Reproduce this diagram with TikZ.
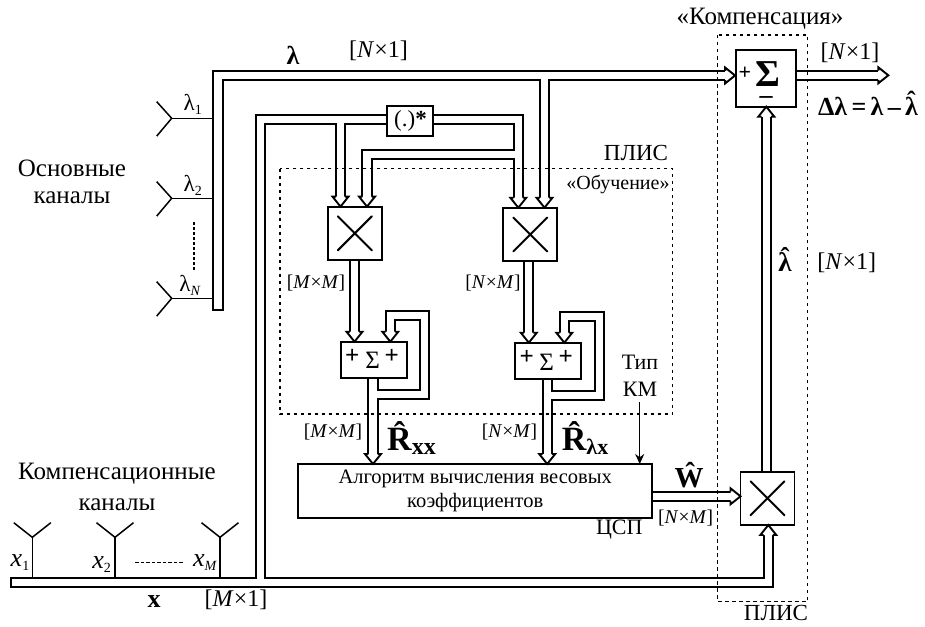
\documentclass[tikz,border=0pt]{standalone}
\usepackage{fontspec}
\setmainfont{Liberation Serif}
\usetikzlibrary{calc,arrows.meta,backgrounds}
\newcommand{\szlab}[2]{[\textit{#1}×#2]}
\newcommand{\szit}[2]{[\textit{#1}×\textit{#2}]}
\newcommand{\lamhat}{\ooalign{λ\cr\hidewidth\raisebox{0.2em}{ˆ}\hidewidth\cr}}
\newcommand{\subsc}[1]{\raisebox{-4pt}{\fontsize{14}{14}\selectfont #1}}
\newcommand{\busroutes}{%
  % lambda bus
  \draw[busline,line cap=rect] (lamend) -- ++(0,-5);
  \draw[busline] (lamend) -- (lamcorner) -- ($(s3in)+(-10,0)$);
  \draw[busline] ($(lamcorner)!0.9!(lamturn)$) -- (lamturn) -- ($(m2b)+(0,-10)$);
  % x bus
  \draw[busline,line cap=rect] (xend) -- ++(5,0);
  \draw[busline] (xend) -- (xcorner) -- ($(m3in)+(0,10)$);
  \draw[busline] (xup) -- (xtop) -- (conjr) -- ($(m2a)+(0,-10)$);
  \draw[busline] (m1abr) -- ($(m1a)+(0,-10)$);
  \draw[busline] (m2br1) -- (m2br2) -- ($(m1b)+(0,-10)$);
  % multiplier outputs and accumulators
  \draw[busline] (m1.south -| s1a) -- ($(s1a)+(0,-10)$);
  \draw[busline] (m2.south -| s2a) -- ($(s2a)+(0,-10)$);
  \draw[busline] (s1o) -- ($(algo1)+(0,-10)$);
  \draw[busline] (s2o) -- ($(algo2)+(0,-10)$);
  \draw[busline] (s1t) -- (s1p1) -- (s1p2) -- (s1p3) -- ($(s1b)+(0,-10)$);
  \draw[busline] (s2t) -- (s2p1) -- (s2p2) -- (s2p3) -- ($(s2b)+(0,-10)$);
  % weights, estimate, output
  \draw[busline] (wout) -- ($(m3w)+(-10,0)$);
  \draw[busline] (m3up) -- ($(s3b)+(0,10)$);
  \draw[busline] (s3out) -- ($(s3tip)+(-10,0)$);
}
\tikzset{
  x=1pt,y=-1pt,
  box/.style={draw,line width=1.9pt,fill=white,inner sep=0pt},
  mult/.style={box,minimum width=54pt,minimum height=53.5pt},
  frame/.style={line width=1.1pt,dash pattern=on 3.5pt off 3.5pt},
  wire/.style={line width=1.5pt},
  tx/.style={inner sep=0pt,font=\fontsize{#1}{#1}\selectfont},
  bf/.style={inner sep=0pt,font=\fontsize{#1}{#1}\bfseries\selectfont},
  bushead/.pic={
    \fill[white] (-8,-10) -- (0,0) -- (8,-10) -- cycle;
    \draw[line width=1.9pt,line join=miter] (-4.6,-10) -- (-8,-10) -- (0,0) -- (8,-10) -- (4.6,-10);
  },
  antleft/.pic={\draw[wire] (-15,-16.6) -- (0,0) -- (-15,17.8);},
  antup/.pic={\draw[wire] (-18.5,-14.6) -- (0,0) -- (18.5,-14.6);},
  crossmark/.pic={\draw[line width=2pt,line cap=round] (-17,-17) -- (17,17) (-17,17) -- (17,-17);}
}
\begin{document}
\begin{tikzpicture}
\useasboundingbox (0,0) rectangle (925,626);
% blocks
\node[box,minimum width=45.7pt,minimum height=30pt] (conj) at (410.2,121) {};
\node[tx=23] (conjt) at (410.5,121) {(.)\textbf{*}};
\node[mult] (m1) at (354.8,233.3) {};
\node[mult] (m2) at (530.3,234.5) {};
\node[mult] (m3) at (767.5,498.3) {};
\node[box,minimum width=66.6pt,minimum height=36.6pt] (s1) at (374,360) {};
\node[box,minimum width=66pt,minimum height=36.3pt] (s2) at (548,360.8) {};
\node[box,minimum width=60pt,minimum height=56.7pt] (s3) at (766,78.3) {};
\node[box,minimum width=354pt,minimum height=53.7pt,align=center,font=\fontsize{20.5}{25}\selectfont] (algo) at (475.2,490.8) {Алгоритм вычисления весовых\\[-1pt]коэффициентов};
% bus way-points
\coordinate (s3in) at (s3.west |- 0,75.5);
\coordinate (lamend) at (218,305.3);
\coordinate (lamcorner) at (218,75.5);
\coordinate (lamturn) at (544.5,75.5);
\coordinate (m2b) at (544.5,207.7);
\coordinate (m2a) at (518.3,207.7);
\coordinate (m1a) at (340.5,206.6);
\coordinate (m1b) at (367,206.6);
\coordinate (xend) at (15.4,582.6);
\coordinate (xcorner) at (768.3,582.6);
\coordinate (m3in) at (768.3,525);
\coordinate (xup) at (260.5,582.6);
\coordinate (xtop) at (260.5,119.7);
\coordinate (conjr) at (518.3,119.7);
\coordinate (m1abr) at (340.5,119.7);
\coordinate (m2br1) at (518.3,154.7);
\coordinate (m2br2) at (367,154.7);
\coordinate (s1a) at (354.5,341.7);
\coordinate (s2a) at (528.8,342.7);
\coordinate (s1b) at (390.3,341.7);
\coordinate (s2b) at (564.3,342.7);
\coordinate (s1o) at (373,378);
\coordinate (s2o) at (547.2,379);
\coordinate (algo1) at (373,464);
\coordinate (algo2) at (547.2,464);
\coordinate (s1t) at (373,394.5);
\coordinate (s1p1) at (424.8,394.5);
\coordinate (s1p2) at (424.8,315.5);
\coordinate (s1p3) at (390.3,315.5);
\coordinate (s2t) at (547.2,395.5);
\coordinate (s2p1) at (599.3,395.5);
\coordinate (s2p2) at (599.3,316.7);
\coordinate (s2p3) at (564.3,316.7);
\coordinate (wout) at (652.2,496.3);
\coordinate (m3w) at (740.5,496.3);
\coordinate (m3up) at (766.3,471.5);
\coordinate (s3b) at (766.3,106.7);
\coordinate (s3out) at (796,75.3);
\coordinate (s3tip) at (888.3,75.3);
\begin{pgfonlayer}{background}
  \tikzset{busline/.style={line width=11.1pt}}
  \busroutes
  \tikzset{busline/.style={line width=7.3pt,white}}
  \busroutes
\end{pgfonlayer}
% hollow arrow heads
\pic at (m1a) {bushead};
\pic at (m1b) {bushead};
\pic at (m2a) {bushead};
\pic at (m2b) {bushead};
\pic at (s1a) {bushead};
\pic at (s1b) {bushead};
\pic at (s2a) {bushead};
\pic at (s2b) {bushead};
\pic at (algo1) {bushead};
\pic at (algo2) {bushead};
\pic[rotate=90] at (s3in) {bushead};
\pic[rotate=90] at (s3tip) {bushead};
\pic[rotate=90] at (m3w) {bushead};
\pic[rotate=180] at (m3in) {bushead};
\pic[rotate=180] at (s3b) {bushead};
% multiplier marks
\pic at (m1.center) {crossmark};
\pic at (m2.center) {crossmark};
\pic at (m3.center) {crossmark};
% FPGA frames
\draw[frame] (280,168.5) rectangle (672.7,414);
\draw[frame] (717.7,35) rectangle (807.7,601.7);
% main-channel antennas
\coordinate (al1) at (171.7,118.3);
\coordinate (al2) at (171.7,198.3);
\coordinate (al3) at (171.7,298.3);
\coordinate (tl1) at (213,118.3);
\coordinate (tl2) at (213,198.3);
\coordinate (tl3) at (213,298.3);
\foreach \n in {1,2,3}{
  \pic at (al\n) {antleft};
  \draw[wire] (al\n) -- (tl\n);
}
\coordinate (dl1) at (194,222);
\coordinate (dl2) at (194,270);
\draw[line width=1.4pt,dash pattern=on 3pt off 2pt] (dl1) -- (dl2);
% compensation antennas
\coordinate (au1) at (32.3,537.3);
\coordinate (au2) at (115,537.3);
\coordinate (au3) at (220,537.3);
\coordinate (tu1) at (32.3,578);
\coordinate (tu2) at (115,578);
\coordinate (tu3) at (220,578);
\foreach \n in {1,2,3}{
  \pic at (au\n) {antup};
  \draw[wire] (au\n) -- (tu\n);
}
\coordinate (du1) at (135,562.3);
\coordinate (du2) at (183,562.3);
\draw[line width=1.2pt,dash pattern=on 3.5pt off 2pt] (du1) -- (du2);
% type input
\node[inner sep=0pt,align=center,font=\fontsize{22}{27}\selectfont] (typ) at (640,375.5) {Тип\\КМ};
\coordinate (typend) at (639.7,464);
\coordinate (typstart) at (639.7,401.7);
\draw[line width=1.5pt,-{Stealth[length=10pt,width=9pt]}] (typstart) -- (typend);
% labels
\node[tx=25] (main1) at (72,168) {Основные};
\node[tx=25] (main2) at (72,198) {каналы};
\node[tx=25] (comp1) at (117,474) {Компенсационные};
\node[tx=25] (comp2) at (117,505) {каналы};
\node[tx=25] (compl) at (760,19) {«Компенсация»};
\node[tx=23] (plis1) at (636,153) {ПЛИС};
\node[tx=23] (plis2) at (776,613) {ПЛИС};
\node[tx=20] (learn) at (618,184) {«Обучение»};
\node[tx=22] (csp) at (619.3,529.3) {ЦСП};
\node[bf=26] (lam) at (293,55) {λ};
\node[tx=24] (d1) at (378.5,50.7) {\szlab{N}{1}};
\node[tx=24] (d2) at (850,53) {\szlab{N}{1}};
\node[tx=24] (d3) at (846.7,263) {\szlab{N}{1}};
\node[tx=24] (d4) at (236,600) {\szlab{M}{1}};
\node[tx=19.5] (d5) at (316,283) {\szit{M}{M}};
\node[tx=19.5] (d6) at (493,283) {\szit{N}{M}};
\node[tx=19.5] (d7) at (333,432) {\szit{M}{M}};
\node[tx=19.5] (d8) at (509.5,432) {\szit{N}{M}};
\node[tx=19.5] (d9) at (685.7,518) {\szit{N}{M}};
\node[tx=23] (l1) at (192.7,104) {λ\subsc{1}};
\node[tx=23] (l2) at (192.7,185) {λ\subsc{2}};
\node[tx=23] (l3) at (190,285) {λ\subsc{\textit{N}}};
\node[tx=26] (x1) at (20,563) {\textit{x}\subsc{1}};
\node[tx=26] (x2) at (101.7,565) {\textit{x}\subsc{2}};
\node[tx=26] (x3) at (205,563) {\textit{x}\subsc{\textit{M}}};
\node[bf=26] (xb) at (154,602) {x};
\node[bf=34,anchor=base west] (rxx) at (387,450.7) {R̂\fontsize{24}{24}\selectfont\raisebox{-4pt}{xx}};
\node[bf=34,anchor=base west] (rlx) at (561.7,450.7) {R̂\fontsize{22}{22}\selectfont\raisebox{-4pt}{λx}};
\node[bf=29] (what) at (689,475) {Ŵ};
\node[bf=27] (lhat) at (785,262) {\lamhat};
\node[bf=26] (diff) at (868,106) {Δλ\,=\,λ\,–\,\lamhat};
% adder signs
\node[bf=25] (p1) at (352.3,356) {+};
\node[tx=25] (sg1) at (372.7,360.7) {Σ};
\node[bf=25] (p2) at (391.7,356) {+};
\node[bf=25] (p3) at (526.7,357) {+};
\node[tx=25] (sg2) at (546.7,362) {Σ};
\node[bf=25] (p4) at (565.7,357) {+};
\node[bf=22] (p5) at (745,73) {+};
\node[bf=38] (sg3) at (768,74) {Σ};
\node[bf=26] (m5) at (766,100) {–};
\end{tikzpicture}
\end{document}
